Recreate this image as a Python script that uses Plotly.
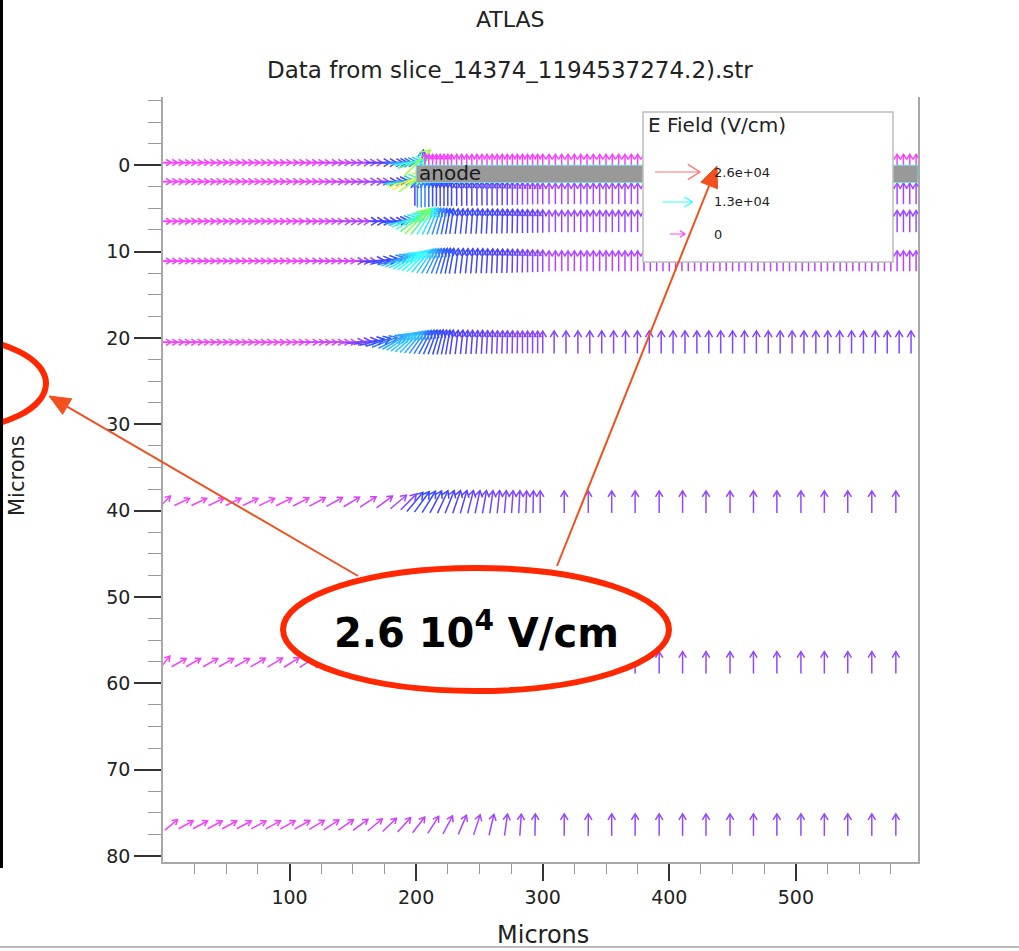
import math
import plotly.graph_objects as go
from plotly.colors import sample_colorscale

# ---------------- data: mesh x positions (microns) ----------------
X_LEFT = [0, 5, 10, 15, 20, 25, 30, 35, 40, 45, 50, 55, 60, 65, 70, 75, 80, 85, 90, 95,
          100, 105, 110, 115, 120, 125, 130, 135, 140, 145, 150, 155, 160, 165, 170, 175, 180]
X_FAN = [183, 186, 189, 192, 195, 198, 201, 204, 207, 210, 213, 216, 219, 222, 225, 228]
X_MID = [232, 236, 240, 244, 248, 252, 256, 260, 264, 268, 272, 276, 280, 284, 288, 292, 296, 300]
X_RIGHT = [305, 310, 315, 320, 325, 330, 335, 340, 345, 350,
           355, 360, 365, 370, 375, 380, 385, 390, 395, 400,
           405, 410, 415, 420, 425, 430, 435, 440, 445, 450,
           455, 460, 465, 470, 475, 480, 485, 490, 495, 500,
           505, 510, 515, 520, 525, 530, 535, 540, 545, 550,
           555, 560, 565, 570, 575, 580, 585, 590, 595]
X_RIGHT_E = [309, 318.4, 327.8, 337.2, 346.6, 356, 365.4, 374.8, 384.2, 393.6,
             403, 412.4, 421.8, 431.2, 440.6, 450, 459.4, 468.8, 478.2, 487.6,
             497, 506.4, 515.8, 525.2, 534.6, 544, 553.4, 562.8, 572.2, 581.6, 591]
X_SPARSE = [317, 336, 354.5, 373, 392, 410.5, 429, 448, 466.5, 485, 504, 522.5, 541, 560, 579]
X_B2_START = [199]
X_F_LEFT = [1.2, 15, 28.5, 42, 55.5, 69, 82, 95.5, 109, 122, 135.5, 149, 162, 175, 186, 194]
X_F_DENSE = [199, 204.5, 210, 215.5, 221, 226.5, 232, 237.5, 243, 248.5, 254, 259.5, 265,
             270.5, 276, 281.5, 287, 292.5, 298]
X_G_LEFT = [1.2, 12.6, 24, 37.5, 50, 62.5, 75, 88.5, 101.5, 114, 126.5, 139, 151.5, 164,
            176.5, 189, 201.5, 214, 226.5, 239, 251.5, 264, 276.5, 289, 300]
X_H_LEFT = [6.5, 18, 29.5, 41, 52.5, 64, 75.5, 87, 98.5, 110, 121.5, 133, 144.5, 156, 167.5,
            179, 190.5, 202, 213.5, 225, 236.5, 248, 259.5, 271, 282.5, 294]

# row depths (microns)
ROW_Y = [-0.3, 1.9, 3.3, 6.5, 11.1, 20.5, 39.0, 57.6, 76.4]

# ---------------- data: field direction (deg, screen-up positive) ----------------
ANG_FLAT_37 = [0, 0, 0, 0, 0, 0, 0, 0, 0, 0, 0, 0, 0, 0, 0, 0, 0, 0, 0, 0,
               0, 0, 0, 0, 0, 0, 0, 0, 0, 0, 0, 0, 0, 0, 0, 0, 0]
ANG_UP_11 = [90, 90, 90, 90, 90, 90, 90, 90, 90, 90, 90]
ANG_UP_18 = [90, 90, 90, 90, 90, 90, 90, 90, 90, 90, 90, 90, 90, 90, 90, 90, 90, 90]
ANG_UP_59 = [90, 90, 90, 90, 90, 90, 90, 90, 90, 90, 90, 90, 90, 90, 90, 90, 90, 90, 90, 90,
             90, 90, 90, 90, 90, 90, 90, 90, 90, 90, 90, 90, 90, 90, 90, 90, 90, 90, 90, 90,
             90, 90, 90, 90, 90, 90, 90, 90, 90, 90, 90, 90, 90, 90, 90, 90, 90, 90, 90]
ANG_UP_31 = [90, 90, 90, 90, 90, 90, 90, 90, 90, 90, 90, 90, 90, 90, 90, 90, 90, 90, 90, 90,
             90, 90, 90, 90, 90, 90, 90, 90, 90, 90, 90]
ANG_UP_15 = [90, 90, 90, 90, 90, 90, 90, 90, 90, 90, 90, 90, 90, 90, 90]

A_ANG_FAN = [0, 0, 3, 6, 10, 20, 45, 80, 90, 90, 90, 90, 90, 90, 90, 90]
B_ANG_FAN = [5, 8, 12, 18, 25, 35]
C_ANG_FAN = [5, 10, 15, 22, 30, 38, 45, 52, 58, 64, 68, 72, 75, 78, 80, 82]
C_ANG_MID = [83, 84, 85, 86, 86, 87, 87, 88, 88, 88, 89, 89, 89, 90, 90, 90, 90, 90]
D_ANG_LEFT = [0, 0, 0, 0, 0, 0, 0, 0, 0, 0, 0, 0, 0, 0, 0, 0, 0, 0, 0, 0,
              0, 0, 0, 0, 0, 0, 0, 0, 0, 0, 0, 0, 0, 5, 8, 12, 16]
D_ANG_FAN = [20, 24, 28, 32, 36, 40, 45, 50, 55, 60, 64, 68, 72, 75, 78, 80]
D_ANG_MID = [82, 83, 84, 85, 86, 86, 87, 87, 88, 88, 88, 89, 89, 89, 90, 90, 90, 90]
E_ANG_LEFT = [0, 0, 0, 0, 0, 0, 0, 0, 0, 0, 0, 0, 0, 0, 0, 0, 0, 0, 0, 0,
              0, 0, 0, 0, 0, 0, 0, 0, 0, 0, 4, 7, 10, 14, 18, 22, 26]
E_ANG_FAN = [30, 34, 38, 42, 46, 50, 54, 58, 62, 66, 70, 73, 76, 78, 80, 82]
F_ANG_LEFT = [45, 25, 25, 25, 25, 25, 25, 26, 27, 28, 29, 31, 33, 36, 40, 45]
F_ANG_DENSE = [50, 54, 58, 62, 65, 68, 71, 74, 76, 78, 80, 82, 84, 85, 86, 87, 88, 89, 90]
G_ANG_LEFT = [50, 30, 30, 30, 30, 30, 30, 31, 32, 33, 35, 37, 40, 43, 47, 51, 56, 61, 66, 71,
              76, 80, 84, 87, 89]
H_ANG_LEFT = [40, 28, 28, 28, 28, 28, 28, 29, 30, 30, 31, 33, 35, 37, 40, 44, 48, 52, 57, 62,
              67, 72, 77, 82, 86, 89]

# ---------------- data: field strength as fraction of 2.6e4 V/cm ----------------
A_E_LEFT = [0.04, 0.04, 0.04, 0.04, 0.04, 0.04, 0.04, 0.04, 0.04, 0.04,
            0.04, 0.04, 0.04, 0.04, 0.04, 0.04, 0.04, 0.04, 0.04, 0.04,
            0.08, 0.08, 0.08, 0.08, 0.08, 0.08, 0.14, 0.14, 0.14, 0.14,
            0.14, 0.2, 0.2, 0.2, 0.3, 0.3, 0.3]
A_E_FAN = [0.35, 0.38, 0.42, 0.46, 0.5, 0.6, 0.7, 0.35, 0.12, 0.06, 0.05, 0.05, 0.05, 0.05, 0.05, 0.05]
A_E_MID = [0.05, 0.05, 0.05, 0.05, 0.05, 0.05, 0.05, 0.05, 0.05, 0.05,
           0.05, 0.05, 0.05, 0.05, 0.05, 0.05, 0.05, 0.05]
A_E_RIGHT = [0.05, 0.05, 0.05, 0.05, 0.05, 0.05, 0.05, 0.05, 0.05, 0.05,
             0.05, 0.05, 0.05, 0.05, 0.05, 0.05, 0.05, 0.05, 0.05, 0.05,
             0.05, 0.05, 0.05, 0.05, 0.05, 0.05, 0.05, 0.05, 0.05, 0.05,
             0.05, 0.05, 0.05, 0.05, 0.05, 0.05, 0.05, 0.05, 0.05, 0.05,
             0.05, 0.05, 0.05, 0.05, 0.05, 0.05, 0.05, 0.05, 0.05, 0.05,
             0.05, 0.05, 0.05, 0.05, 0.05, 0.05, 0.05, 0.05, 0.05]
B_E_LEFT = [0.04, 0.04, 0.04, 0.04, 0.04, 0.04, 0.04, 0.04, 0.04, 0.04,
            0.04, 0.04, 0.04, 0.04, 0.04, 0.04, 0.04, 0.04, 0.04, 0.04,
            0.08, 0.08, 0.08, 0.08, 0.08, 0.08, 0.08, 0.14, 0.14, 0.14,
            0.14, 0.14, 0.22, 0.22, 0.22, 0.3, 0.3]
B_E_FAN = [0.36, 0.45, 0.6, 0.75, 0.8, 0.7]
B2_E_FAN = [0.3, 0.42, 0.42, 0.4, 0.38, 0.36, 0.34, 0.33, 0.33, 0.33, 0.32]
B2_E_MID = [0.32, 0.31, 0.31, 0.3, 0.3, 0.29, 0.29, 0.28, 0.28, 0.27, 0.26, 0.25, 0.24, 0.23,
            0.22, 0.22, 0.21, 0.21]
B2_E_RIGHT = [0.2, 0.2, 0.2, 0.2, 0.2, 0.2, 0.2, 0.2, 0.2, 0.2,
              0.2, 0.2, 0.2, 0.2, 0.2, 0.2, 0.2, 0.2, 0.2, 0.2,
              0.2, 0.2, 0.2, 0.2, 0.2, 0.2, 0.2, 0.2, 0.2, 0.2,
              0.2, 0.2, 0.2, 0.2, 0.2, 0.2, 0.2, 0.2, 0.2, 0.2,
              0.2, 0.2, 0.2, 0.2, 0.2, 0.2, 0.2, 0.2, 0.2, 0.2,
              0.2, 0.2, 0.2, 0.2, 0.2, 0.2, 0.2, 0.2, 0.2]
C_E_LEFT = [0.04, 0.04, 0.04, 0.04, 0.04, 0.04, 0.04, 0.04, 0.04, 0.04,
            0.04, 0.04, 0.04, 0.04, 0.04, 0.04, 0.04, 0.04, 0.04, 0.04,
            0.04, 0.04, 0.1, 0.1, 0.1, 0.1, 0.1, 0.1, 0.18, 0.18,
            0.18, 0.18, 0.3, 0.3, 0.3, 0.3, 0.3]
C_E_FAN = [0.36, 0.42, 0.48, 0.52, 0.56, 0.62, 0.68, 0.6, 0.52, 0.48, 0.45, 0.42, 0.4, 0.38, 0.36, 0.35]
C_E_MID = [0.34, 0.33, 0.33, 0.33, 0.33, 0.32, 0.32, 0.32, 0.31, 0.31, 0.3, 0.3, 0.29, 0.28,
           0.28, 0.27, 0.26, 0.26]
C_E_RIGHT = [0.22, 0.22, 0.22, 0.22, 0.22, 0.22, 0.22, 0.22, 0.22, 0.22,
             0.22, 0.22, 0.22, 0.22, 0.22, 0.22, 0.22, 0.22, 0.22, 0.22,
             0.22, 0.22, 0.22, 0.22, 0.22, 0.22, 0.22, 0.22, 0.22, 0.22,
             0.22, 0.22, 0.22, 0.22, 0.22, 0.22, 0.22, 0.22, 0.22, 0.22,
             0.22, 0.22, 0.22, 0.22, 0.22, 0.22, 0.22, 0.22, 0.22, 0.22,
             0.22, 0.22, 0.22, 0.22, 0.22, 0.22, 0.22, 0.22, 0.22]
D_E_LEFT = [0.04, 0.04, 0.04, 0.04, 0.04, 0.04, 0.04, 0.04, 0.04, 0.04,
            0.04, 0.04, 0.04, 0.04, 0.04, 0.04, 0.04, 0.04, 0.04, 0.04,
            0.04, 0.04, 0.04, 0.1, 0.1, 0.1, 0.1, 0.1, 0.1, 0.1,
            0.2, 0.2, 0.2, 0.3, 0.33, 0.36, 0.4]
D_E_FAN = [0.44, 0.46, 0.48, 0.5, 0.5, 0.5, 0.5, 0.48, 0.46, 0.44, 0.42, 0.4, 0.38, 0.37, 0.36, 0.35]
D_E_MID = [0.34, 0.33, 0.33, 0.33, 0.32, 0.32, 0.31, 0.31, 0.3, 0.3, 0.29, 0.28, 0.27, 0.26,
           0.25, 0.24, 0.23, 0.22]
D_E_RIGHT = [0.18, 0.18, 0.18, 0.18, 0.18, 0.18, 0.18, 0.18, 0.18, 0.18,
             0.18, 0.18, 0.18, 0.18, 0.18, 0.18, 0.18, 0.18, 0.18, 0.18,
             0.18, 0.18, 0.18, 0.18, 0.18, 0.18, 0.18, 0.18, 0.18, 0.18,
             0.18, 0.18, 0.18, 0.18, 0.18, 0.18, 0.18, 0.18, 0.18, 0.18,
             0.18, 0.18, 0.18, 0.18, 0.18, 0.18, 0.18, 0.18, 0.18, 0.18,
             0.18, 0.18, 0.18, 0.18, 0.18, 0.18, 0.18, 0.18, 0.18]
E_E_LEFT = [0.04, 0.04, 0.04, 0.04, 0.04, 0.04, 0.04, 0.04, 0.04, 0.04,
            0.04, 0.04, 0.04, 0.04, 0.04, 0.04, 0.04, 0.04, 0.04, 0.04,
            0.04, 0.04, 0.04, 0.12, 0.12, 0.12, 0.12, 0.12, 0.12, 0.12,
            0.22, 0.26, 0.3, 0.34, 0.37, 0.4, 0.42]
E_E_FAN = [0.44, 0.45, 0.46, 0.46, 0.45, 0.44, 0.42, 0.4, 0.38, 0.37, 0.36, 0.35, 0.34, 0.33, 0.32, 0.31]
E_E_MID = [0.3, 0.3, 0.29, 0.29, 0.28, 0.28, 0.27, 0.27, 0.26, 0.26, 0.25, 0.25, 0.24, 0.24,
           0.24, 0.24, 0.24, 0.24]
E_E_RIGHT = [0.25, 0.25, 0.25, 0.25, 0.25, 0.25, 0.25, 0.25, 0.25, 0.25,
             0.25, 0.25, 0.25, 0.25, 0.25, 0.25, 0.25, 0.25, 0.25, 0.25,
             0.25, 0.25, 0.25, 0.25, 0.25, 0.25, 0.25, 0.25, 0.25, 0.25, 0.25]
F_E_LEFT = [0.06, 0.06, 0.06, 0.06, 0.06, 0.06, 0.07, 0.08, 0.09, 0.1, 0.11, 0.12, 0.14, 0.16, 0.2, 0.24]
F_E_DENSE = [0.33, 0.34, 0.34, 0.33, 0.32, 0.31, 0.3, 0.29, 0.28, 0.27, 0.27, 0.26, 0.26, 0.25,
             0.25, 0.25, 0.24, 0.24, 0.24]
G_E_LEFT = [0.06, 0.06, 0.06, 0.06, 0.06, 0.06, 0.07, 0.08, 0.09, 0.1, 0.11, 0.12, 0.13, 0.14,
            0.15, 0.16, 0.17, 0.18, 0.19, 0.2, 0.21, 0.22, 0.22, 0.23, 0.23]
H_E_LEFT = [0.05, 0.05, 0.05, 0.05, 0.05, 0.05, 0.06, 0.06, 0.07, 0.08, 0.09, 0.1, 0.11, 0.12,
            0.13, 0.14, 0.15, 0.16, 0.17, 0.18, 0.19, 0.2, 0.21, 0.22, 0.22, 0.23]
E_SPARSE_RIGHT = [0.23, 0.23, 0.23, 0.23, 0.23, 0.23, 0.23, 0.23, 0.23, 0.23, 0.23, 0.23, 0.23, 0.23, 0.23]

ANODE_X = [200, 600]
ANODE_Y = [0, 2]

LEGEND_VALUES = [26000, 13000, 0]
LEGEND_LABELS = ["2.6e+04", "1.3e+04", "0"]
E_MAX = 26000

X_TICKS = [100, 200, 300, 400, 500]
X_MINOR = [25, 50, 75, 125, 150, 175, 225, 250, 275, 325, 350, 375, 425, 450, 475, 525, 550, 575]
Y_TICKS = [0, 10, 20, 30, 40, 50, 60, 70, 80]
Y_MINOR = [-7.5, -5, -2.5, 2.5, 5, 7.5, 12.5, 15, 17.5, 22.5, 25, 27.5, 32.5, 35, 37.5,
           42.5, 45, 47.5, 52.5, 55, 57.5, 62.5, 65, 67.5, 72.5, 75, 77.5]

ROWS = [
    (ROW_Y[0], X_LEFT + X_FAN + X_MID + X_RIGHT,
     ANG_FLAT_37 + A_ANG_FAN + ANG_UP_18 + ANG_UP_59, A_E_LEFT + A_E_FAN + A_E_MID + A_E_RIGHT),
    (ROW_Y[1], X_LEFT + X_FAN[:6], ANG_FLAT_37 + B_ANG_FAN, B_E_LEFT + B_E_FAN),
    (ROW_Y[2], X_B2_START + X_FAN[6:] + X_MID + X_RIGHT,
     ANG_UP_11 + ANG_UP_18 + ANG_UP_59, B2_E_FAN + B2_E_MID + B2_E_RIGHT),
    (ROW_Y[3], X_LEFT + X_FAN + X_MID + X_RIGHT,
     ANG_FLAT_37 + C_ANG_FAN + C_ANG_MID + ANG_UP_59, C_E_LEFT + C_E_FAN + C_E_MID + C_E_RIGHT),
    (ROW_Y[4], X_LEFT + X_FAN + X_MID + X_RIGHT,
     D_ANG_LEFT + D_ANG_FAN + D_ANG_MID + ANG_UP_59, D_E_LEFT + D_E_FAN + D_E_MID + D_E_RIGHT),
    (ROW_Y[5], X_LEFT + X_FAN + X_MID + X_RIGHT_E,
     E_ANG_LEFT + E_ANG_FAN + C_ANG_MID + ANG_UP_31, E_E_LEFT + E_E_FAN + E_E_MID + E_E_RIGHT),
    (ROW_Y[6], X_F_LEFT + X_F_DENSE + X_SPARSE,
     F_ANG_LEFT + F_ANG_DENSE + ANG_UP_15, F_E_LEFT + F_E_DENSE + E_SPARSE_RIGHT),
    (ROW_Y[7], X_G_LEFT + X_SPARSE, G_ANG_LEFT + ANG_UP_15, G_E_LEFT + E_SPARSE_RIGHT),
    (ROW_Y[8], X_H_LEFT + X_SPARSE, H_ANG_LEFT + ANG_UP_15, H_E_LEFT + E_SPARSE_RIGHT),
]

# ---------------- layout constants ----------------
W, H = 1019, 951
M_L, M_T, PLOT_W, PLOT_H = 163, 97, 755, 765
X_RANGE = [0, 596.5]
Y_RANGE = [80.7, -7.9]
SX = PLOT_W / (X_RANGE[1] - X_RANGE[0])
SY = PLOT_H / (Y_RANGE[0] - Y_RANGE[1])
FONT = "DejaVu Sans"
ORANGE = "#F2501E"

COLORSCALE = [[0.0, "#FF44FF"], [0.08, "#F040FF"], [0.15, "#C840FF"], [0.22, "#9C48FF"],
              [0.3, "#5040FF"], [0.36, "#3050FF"], [0.43, "#30A0FF"], [0.5, "#30FFFF"],
              [0.6, "#40FF90"], [0.7, "#A0FF40"], [0.8, "#FFF040"], [0.9, "#FFB050"],
              [1.0, "#FF7070"]]


def ppx(px):
    return (px - M_L) / PLOT_W


def ppy(py):
    return (M_T + PLOT_H - py) / PLOT_H


def arrow_geom(x, y, ang, e):
    L = 15 + 30 * e
    a = math.radians(ang)
    hx = L / 2 * math.cos(a) / SX
    hy = L / 2 * math.sin(a) / SY
    tail = (x - hx, y + hy)
    tip = (x + hx, y - hy)
    hl = max(6.0, 0.32 * L)
    heads = []
    for s in (1, -1):
        b = a + math.pi + s * math.radians(32)
        heads.append((tip[0] + hl * math.cos(b) / SX, tip[1] - hl * math.sin(b) / SY))
    return tail, tip, heads[0], heads[1]


def ecolor(e):
    return sample_colorscale(COLORSCALE, [min(max(e, 0), 1)])[0]


groups = {}
for ry, xs, angs, es in ROWS:
    for x, ang, e in zip(xs, angs, es):
        tail, tip, h1, h2 = arrow_geom(x, ry, ang, e)
        c = ecolor(round(e, 2))
        gx, gy = groups.setdefault(c, ([], []))
        for p in (tail, tip, None, h1, tip, h2, None):
            gx.append(None if p is None else p[0])
            gy.append(None if p is None else p[1])

fig = go.Figure()
for c, (gx, gy) in groups.items():
    fig.add_trace(go.Scatter(x=gx, y=gy, mode="lines", line=dict(color=c, width=1.5),
                             hoverinfo="skip", showlegend=False))

shapes = []
# anode
shapes.append(dict(type="rect", xref="x", yref="y", x0=ANODE_X[0], x1=min(ANODE_X[1], X_RANGE[1]),
                   y0=ANODE_Y[0], y1=ANODE_Y[1], fillcolor="#999999",
                   line=dict(color="#66E4E4", width=1), layer="above"))
# legend box
shapes.append(dict(type="rect", xref="paper", yref="paper", x0=ppx(643), x1=ppx(893),
                   y0=ppy(262), y1=ppy(112), fillcolor="white",
                   line=dict(color="#BDBDBD", width=1.5), layer="above"))
# legend arrows
leg_cx = X_RANGE[0] + (677.5 - M_L) / SX
for val, py in zip(LEGEND_VALUES, [172, 202, 234]):
    ly = Y_RANGE[1] + (py - M_T) / SY
    e = val / E_MAX
    tail, tip, h1, h2 = arrow_geom(leg_cx, ly, 0, e)
    path = (f"M{tail[0]},{tail[1]} L{tip[0]},{tip[1]} "
            f"M{h1[0]},{h1[1]} L{tip[0]},{tip[1]} L{h2[0]},{h2[1]}")
    shapes.append(dict(type="path", xref="x", yref="y", path=path,
                       line=dict(color=ecolor(e), width=1.2), layer="above"))
# red ellipses
shapes.append(dict(type="circle", xref="paper", yref="paper", x0=ppx(283), x1=ppx(669),
                   y0=ppy(691), y1=ppy(568), fillcolor="white",
                   line=dict(color="#FF2800", width=6), layer="above"))
shapes.append(dict(type="circle", xref="paper", yref="paper", x0=ppx(-141), x1=ppx(46),
                   y0=ppy(429), y1=ppy(338), fillcolor="rgba(0,0,0,0)",
                   line=dict(color="#FF2800", width=6), layer="above"))


# orange call-out arrows (tail -> tip, in page pixels)
def callout(tail, tip, head_len=21, head_half=9):
    dx, dy = tip[0] - tail[0], tip[1] - tail[1]
    d = math.hypot(dx, dy)
    ux, uy = dx / d, dy / d
    bx, by = tip[0] - head_len * ux, tip[1] - head_len * uy
    nx, ny = -uy, ux
    out = [dict(type="line", xref="paper", yref="paper", x0=ppx(tail[0]), y0=ppy(tail[1]),
                x1=ppx(bx), y1=ppy(by), line=dict(color=ORANGE, width=2), layer="above")]
    path = (f"M{ppx(tip[0])},{ppy(tip[1])} L{ppx(bx + head_half * nx)},{ppy(by + head_half * ny)} "
            f"L{ppx(bx - head_half * nx)},{ppy(by - head_half * ny)} Z")
    out.append(dict(type="path", xref="paper", yref="paper", path=path, fillcolor=ORANGE,
                    line=dict(color=ORANGE, width=1), layer="above"))
    return out


shapes += callout((358, 576), (49, 396))
shapes += callout((557, 566), (717, 166))

# slide borders
shapes.append(dict(type="rect", xref="paper", yref="paper", x0=ppx(0), x1=ppx(3),
                   y0=ppy(868), y1=ppy(0), fillcolor="black", line=dict(width=0), layer="above"))
shapes.append(dict(type="line", xref="paper", yref="paper", x0=ppx(0), x1=ppx(1019),
                   y0=ppy(947), y1=ppy(947), line=dict(color="#BBBBBB", width=2), layer="above"))

annotations = [
    dict(text="ATLAS", x=ppx(510), y=ppy(20), xref="paper", yref="paper", showarrow=False,
         font=dict(family=FONT, size=22, color="#222"), xanchor="center", yanchor="middle"),
    dict(text="Data from slice_14374_1194537274.2).str", x=ppx(510), y=ppy(70), xref="paper",
         yref="paper", showarrow=False, font=dict(family=FONT, size=23, color="#222"),
         xanchor="center", yanchor="middle"),
    dict(text="Microns", x=ppx(543), y=ppy(935), xref="paper", yref="paper", showarrow=False,
         font=dict(family=FONT, size=24, color="#222"), xanchor="center", yanchor="middle"),
    dict(text="Microns", x=ppx(17), y=ppy(476), xref="paper", yref="paper", showarrow=False,
         textangle=-90, font=dict(family=FONT, size=21, color="#222"),
         xanchor="center", yanchor="middle"),
    dict(text="anode", x=ANODE_X[0] + 0.5, y=0.85, xref="x", yref="y", showarrow=False,
         font=dict(family=FONT, size=20, color="#1a1a1a"), xanchor="left", yanchor="middle"),
    dict(text="E Field (V/cm)", x=ppx(646), y=ppy(125), xref="paper", yref="paper",
         showarrow=False, font=dict(family=FONT, size=20, color="#222"),
         xanchor="left", yanchor="middle"),
    dict(text="<b>2.6 10<sup>4</sup> V/cm</b>", x=ppx(476), y=ppy(630), xref="paper", yref="paper",
         showarrow=False, font=dict(family=FONT, size=40, color="black"),
         xanchor="center", yanchor="middle"),
]
for lab, py in zip(LEGEND_LABELS, [172, 202, 234]):
    annotations.append(dict(text=lab, x=ppx(712), y=ppy(py), xref="paper", yref="paper",
                            showarrow=False, font=dict(family=FONT, size=13, color="#222"),
                            xanchor="left", yanchor="middle"))

fig.update_layout(
    width=W, height=H,
    margin=dict(l=M_L, r=W - M_L - PLOT_W, t=M_T, b=H - M_T - PLOT_H, pad=0),
    paper_bgcolor="white", plot_bgcolor="white",
    font=dict(family=FONT),
    showlegend=False,
    shapes=shapes,
    annotations=annotations,
    xaxis=dict(range=X_RANGE, tickmode="array", tickvals=X_TICKS, ticks="outside", ticklen=17,
               tickwidth=2, tickcolor="#333", showline=True, linecolor="#A8A8A8", linewidth=1.5,
               mirror=False, showgrid=False, zeroline=False, automargin=False,
               tickfont=dict(family=FONT, size=19, color="#222"),
               minor=dict(tickmode="array", tickvals=X_MINOR, ticks="outside", ticklen=10,
                          tickwidth=1, tickcolor="#999", showgrid=False)),
    yaxis=dict(range=Y_RANGE, tickmode="array", tickvals=Y_TICKS, ticks="outside", ticklen=27,
               tickwidth=2, tickcolor="#333", showline=True, linecolor="#A8A8A8", linewidth=1.5,
               mirror=True, showgrid=False, zeroline=False, automargin=False,
               tickfont=dict(family=FONT, size=19, color="#222"),
               minor=dict(tickmode="array", tickvals=Y_MINOR, ticks="outside", ticklen=13,
                          tickwidth=1, tickcolor="#999", showgrid=False)),
)

fig.write_html("out.html", config={"displayModeBar": False},
               post_script="document.body.style.margin='0px';")
